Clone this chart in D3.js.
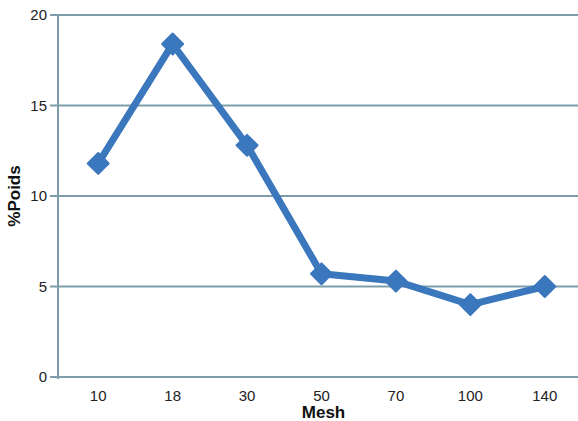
<!DOCTYPE html>
<html>
<head>
<meta charset="utf-8">
<script src="https://cdn.jsdelivr.net/npm/d3@7"></script>
<style>
  body { margin: 0; background: #fff; }
  text { font-family: "Liberation Sans", Arial, sans-serif; }
</style>
</head>
<body>
<svg id="chart"></svg>
<script>
const meshes = ["10", "18", "30", "50", "70", "100", "140"];
const poids = [11.8, 18.4, 12.8, 5.7, 5.3, 4.0, 5.0];
const yTicks = [0, 5, 10, 15, 20];

const W = 578, H = 421;
const margin = { top: 15, right: -4, bottom: 44, left: 61 };
const width = W - margin.left - margin.right;
const height = H - margin.top - margin.bottom;

const svg = d3.select("#chart")
    .attr("width", W)
    .attr("height", H)
    .append("g")
    .attr("transform", `translate(${margin.left},${margin.top})`);

const x = d3.scaleBand()
    .domain(meshes)
    .range([0, width]);

const y = d3.scaleLinear()
    .domain([0, 20])
    .range([height, 0]);

// horizontal gridlines with tick stubs
svg.append("g")
    .selectAll("line")
    .data(yTicks)
    .enter()
    .append("line")
    .attr("x1", -11)
    .attr("x2", width)
    .attr("y1", d => y(d))
    .attr("y2", d => y(d))
    .attr("stroke", "#7d9dab")
    .attr("stroke-width", 2);

// vertical axis line
svg.append("line")
    .attr("x1", -3)
    .attr("x2", -3)
    .attr("y1", y(20))
    .attr("y2", y(0) + 2)
    .attr("stroke", "#7d9dab")
    .attr("stroke-width", 2);

svg.append("g")
    .selectAll("text")
    .data(yTicks)
    .enter()
    .append("text")
    .attr("x", -14)
    .attr("y", d => y(d))
    .attr("dy", "0.35em")
    .attr("text-anchor", "end")
    .style("font-size", "15px")
    .attr("fill", "#222")
    .text(d => d);

svg.append("g")
    .selectAll("text")
    .data(meshes)
    .enter()
    .append("text")
    .attr("x", d => x(d) + x.bandwidth() / 2)
    .attr("y", height + 24)
    .attr("text-anchor", "middle")
    .style("font-size", "15px")
    .attr("fill", "#222")
    .text(d => d);

svg.append("text")
    .attr("x", x("50") + x.bandwidth() / 2 + 2)
    .attr("y", height + 41)
    .attr("text-anchor", "middle")
    .style("font-size", "17px")
    .style("font-weight", "bold")
    .attr("fill", "#111")
    .text("Mesh");

svg.append("text")
    .attr("transform", `translate(${-41},${y(10)}) rotate(-90)`)
    .attr("text-anchor", "middle")
    .style("font-size", "17px")
    .style("font-weight", "bold")
    .attr("fill", "#111")
    .text("%Poids");

const pts = meshes.map((m, i) => ({ m: m, v: poids[i] }));

const line = d3.line()
    .x(d => x(d.m) + x.bandwidth() / 2)
    .y(d => y(d.v));

svg.append("path")
    .datum(pts)
    .attr("fill", "none")
    .attr("stroke", "#3b77bd")
    .attr("stroke-width", 7)
    .attr("stroke-linejoin", "round")
    .attr("d", line);

svg.append("g")
    .selectAll("path")
    .data(pts)
    .enter()
    .append("path")
    .attr("d", d3.symbol().type(d3.symbolDiamond2).size(280))
    .attr("transform", d => `translate(${x(d.m) + x.bandwidth() / 2},${y(d.v)})`)
    .attr("fill", "#3b77bd")
    .attr("stroke", "#3b77bd")
    .attr("stroke-width", 2)
    .attr("stroke-linejoin", "round");
</script>
</body>
</html>
